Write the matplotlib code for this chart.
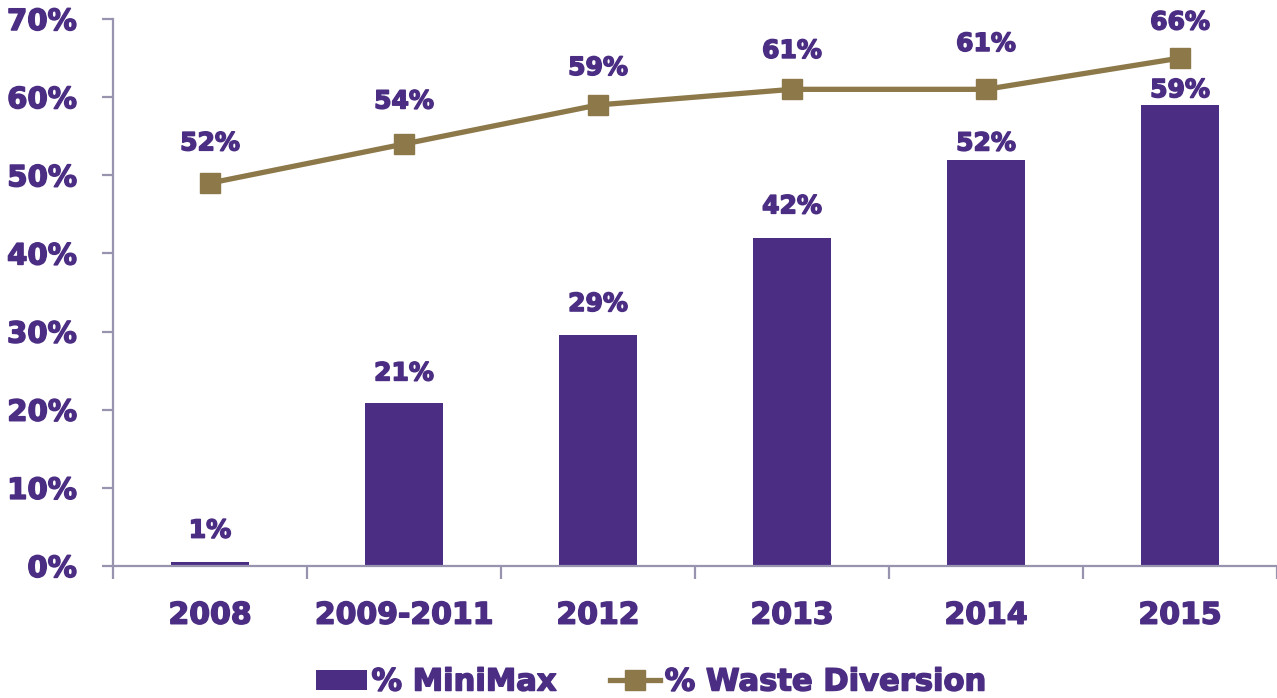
import matplotlib
matplotlib.use("Agg")
import matplotlib.pyplot as plt
import matplotlib.patheffects as pe
from matplotlib.ticker import FixedLocator, FuncFormatter

categories = ["2008", "2009-2011", "2012", "2013", "2014", "2015"]
minimax = [0.5, 20.8, 29.5, 42.0, 52.0, 59.0]
minimax_labels = ["1%", "21%", "29%", "42%", "52%", "59%"]
diversion = [49.0, 54.0, 59.0, 61.0, 61.0, 65.0]
diversion_labels = ["52%", "54%", "59%", "61%", "61%", "66%"]

# label offsets (in points) above marks
bar_label_off = [14, 13, 14, 14, 3, 2]
line_label_off = [20, 22, 18, 19, 24, 17]

PURPLE = "#4B2E83"
GOLD = "#8C7849"
AXIS = "#9893AE"

plt.rcParams['font.family'] = ['DejaVu Sans']
plt.rcParams['font.weight'] = 'bold'

heavy = [pe.withStroke(linewidth=1.1, foreground=PURPLE)]

fig = plt.figure(figsize=(12.77, 6.98), dpi=100)
ax = fig.add_axes([113/1277, 1-566/698, 1-113/1277, (566-19)/698])

x = list(range(len(categories)))
bars = ax.bar(x, minimax, width=0.4, color=PURPLE, label="% MiniMax", zorder=2)
line, = ax.plot(x, diversion, color=GOLD, lw=3.8, marker="s", markersize=14,
                label="% Waste Diversion", zorder=3)

for xi, v, lab, off in zip(x, minimax, minimax_labels, bar_label_off):
    ax.annotate(lab, (xi, v), xytext=(0, off), textcoords="offset points",
                ha="center", va="bottom", color=PURPLE, fontsize=18, fontweight="bold",
                path_effects=heavy)
for xi, v, lab, off in zip(x, diversion, diversion_labels, line_label_off):
    ax.annotate(lab, (xi, v), xytext=(0, off), textcoords="offset points",
                ha="center", va="bottom", color=PURPLE, fontsize=18, fontweight="bold",
                path_effects=heavy)

ax.set_xlim(-0.5, len(categories) - 0.5)
ax.set_ylim(0, 70)
ax.set_yticks(range(0, 71, 10))
ax.yaxis.set_major_formatter(FuncFormatter(lambda v, p: f"{int(v)}%"))
ax.set_xticks(x)
ax.set_xticklabels(categories)
ax.xaxis.set_minor_locator(FixedLocator([i - 0.5 for i in range(len(categories) + 1)]))

for s in ["top", "right"]:
    ax.spines[s].set_visible(False)
for s in ["left", "bottom"]:
    ax.spines[s].set_color(AXIS)
    ax.spines[s].set_linewidth(1.6)

ax.tick_params(axis="y", length=8, width=1.6, color=AXIS, pad=18,
               labelsize=21, labelcolor=PURPLE, direction="out")
ax.tick_params(axis="x", which="major", length=0, pad=25,
               labelsize=21.5, labelcolor=PURPLE)
ax.tick_params(axis="x", which="minor", length=9, width=1.6, color=AXIS, direction="out")
for t in ax.get_xticklabels() + ax.get_yticklabels():
    t.set_fontweight("bold")
    t.set_path_effects(heavy)

leg = fig.legend(handles=[bars, line], loc="center", bbox_to_anchor=(651/1277, 1-682/698),
                 ncol=2, frameon=False, fontsize=22, handlelength=1.65, handleheight=0.65,
                 handletextpad=0.15, columnspacing=1.75, borderaxespad=0)
for t in leg.get_texts():
    t.set_color(PURPLE)
    t.set_fontweight("bold")
    t.set_path_effects(heavy)

fig.savefig("out.png", dpi=100)
